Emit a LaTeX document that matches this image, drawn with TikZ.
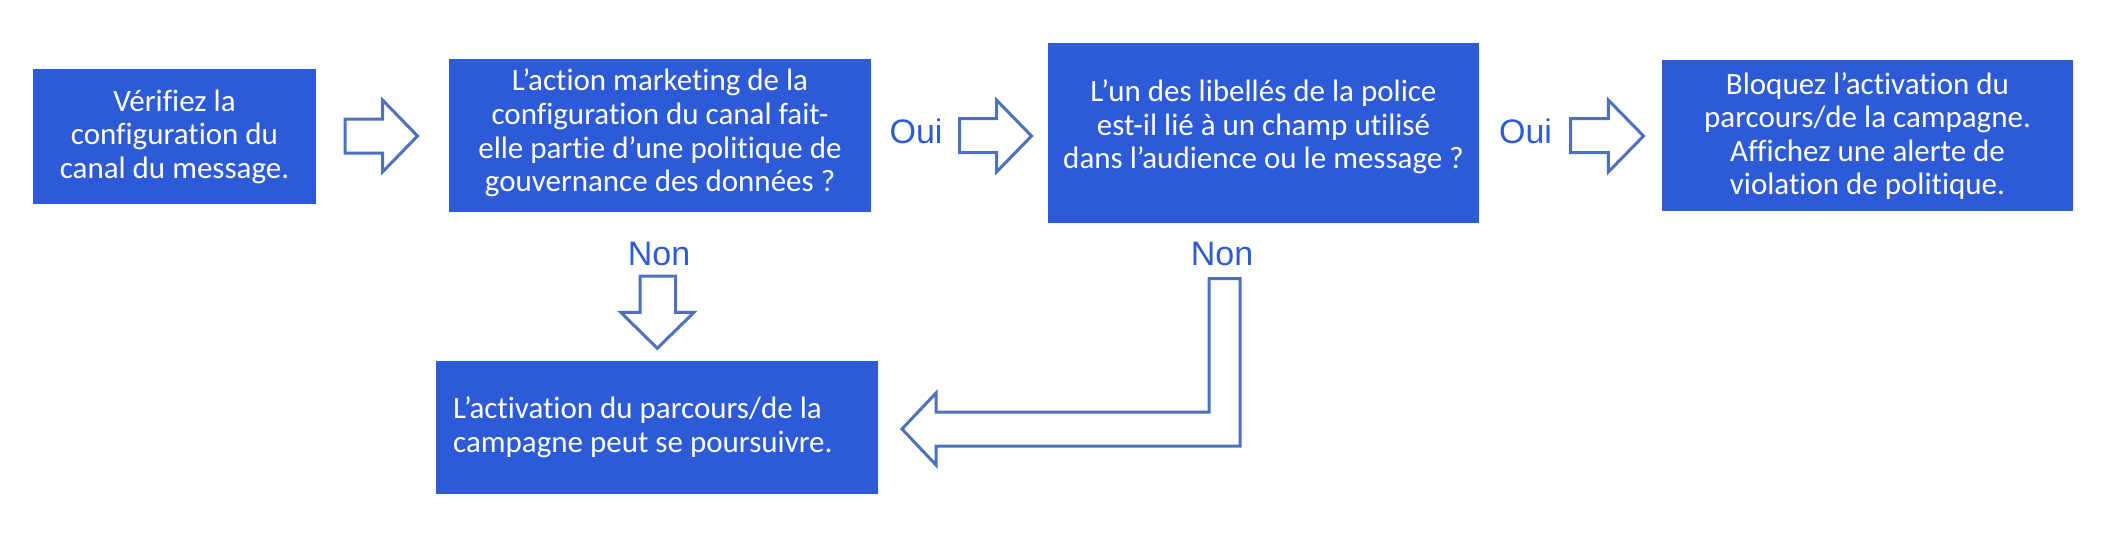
\documentclass[tikz,border=0pt]{standalone}
\usepackage{fontspec}
\setmainfont{Carlito}[Ligatures=NoCommon, Contextuals=NoAlternate]
\newfontfamily\labelfont{Liberation Sans}
\definecolor{boxblue}{RGB}{45,91,215}
\definecolor{arrowblue}{RGB}{78,113,190}
\begin{document}
\begin{tikzpicture}[x=1pt,y=-1pt,
  box/.style={fill=boxblue, draw=none, rectangle, inner sep=0pt},
  boxtext/.style={text=white, align=center, inner sep=0pt, font=\fontsize{31}{33.6}\selectfont},
  lbl/.style={text=boxblue, inner sep=0pt, font=\labelfont\fontsize{34}{36}\selectfont},
  blockarrow/.style={draw=arrowblue, line width=3pt, fill=white, line join=miter}]
\useasboundingbox (0,0) rectangle (2110,550);
% boxes
\node[box, minimum width=283pt, minimum height=135pt] (b1) at (174.5,136.5) {};
\node[boxtext] (t1) at (b1.center) {Vérifiez la\\configuration du\\canal du message.};
\node[box, minimum width=422pt, minimum height=152.5pt] (b2) at (660,135.25) {};
\node[boxtext] (t2) at (660,133) {L’action marketing de la\\configuration du canal fait-\\elle partie d’une politique de\\gouvernance des données ?};
\node[box, minimum width=431pt, minimum height=179.5pt] (b4) at (1263.5,132.75) {};
\node[boxtext] (t4) at (1263.5,127) {L’un des libellés de la police\\est-il lié à un champ utilisé\\dans l’audience ou le message ?};
\node[box, minimum width=411pt, minimum height=151pt] (b5) at (1867.5,135.5) {};
\node[boxtext] (t5) at (1867.5,136) {Bloquez l’activation du\\parcours/de la campagne.\\Affichez une alerte de\\violation de politique.};
\node[box, minimum width=442pt, minimum height=132.5pt] (b3) at (657,427.25) {};
\node[boxtext, align=left, anchor=west] (t3) at (453,427.5) {L’activation du parcours/de la\\campagne peut se poursuivre.};
% labels
\node[lbl] (oui1) at (916,131) {Oui};
\node[lbl] (oui2) at (1525.5,131) {Oui};
\node[lbl] (non1) at (659,254) {Non};
\node[lbl] (non2) at (1222,253.5) {Non};
% block arrows
\draw[blockarrow] (345,119) -- (382.5,119) -- (382.5,100) -- (417.5,136) -- (382.5,172) -- (382.5,153) -- (345,153) -- cycle;
\draw[blockarrow] (959.5,118.5) -- (996.5,118.5) -- (996.5,100) -- (1031.5,136) -- (996.5,172) -- (996.5,152.5) -- (959.5,152.5) -- cycle;
\draw[blockarrow] (1570.5,118.5) -- (1608.3,118.5) -- (1608.3,100) -- (1643.5,136) -- (1608.3,172) -- (1608.3,152.5) -- (1570.5,152.5) -- cycle;
\draw[blockarrow] (640,276) -- (675.5,276) -- (675.5,312.3) -- (694,312.3) -- (657.3,348.3) -- (620.7,312.3) -- (640,312.3) -- cycle;
\draw[blockarrow] (1209,278.5) -- (1240,278.5) -- (1240,446) -- (936,446) -- (936,465) -- (902,429) -- (936,393) -- (936,412) -- (1209,412) -- cycle;
\end{tikzpicture}
\end{document}
